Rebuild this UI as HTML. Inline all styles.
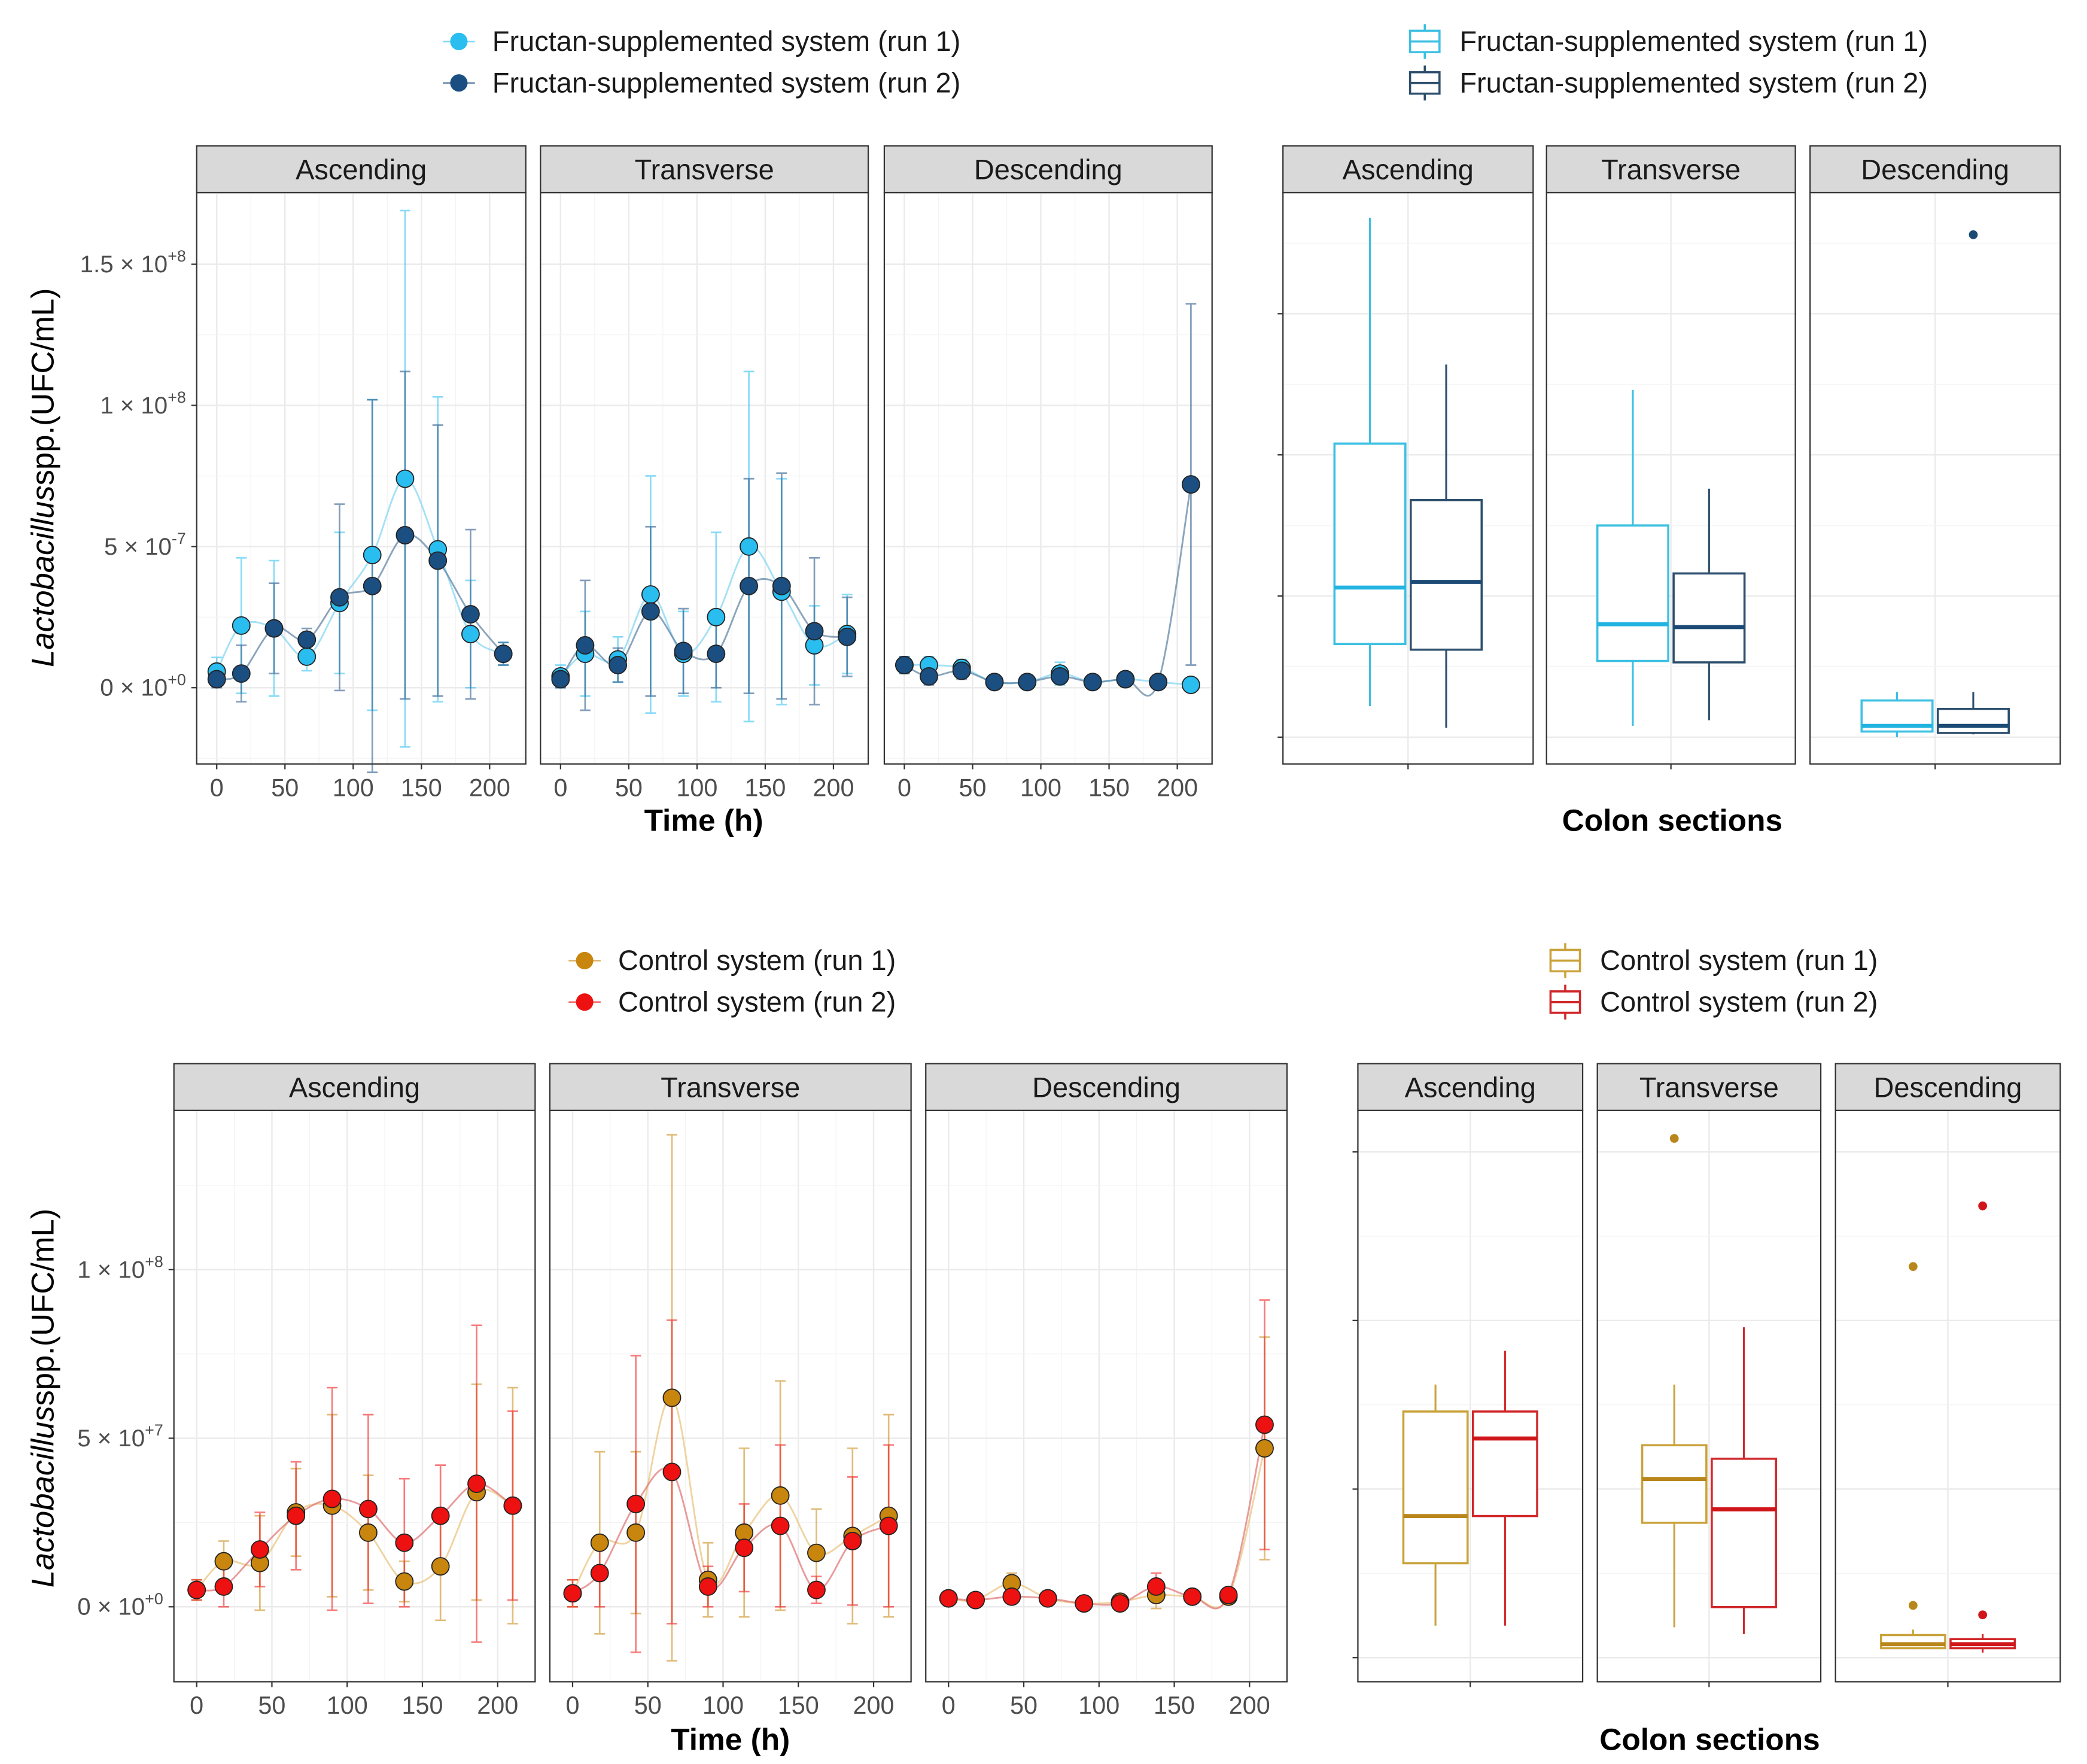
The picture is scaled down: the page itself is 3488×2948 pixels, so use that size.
<!DOCTYPE html>
<html><head><meta charset="utf-8"><style>
html,body{margin:0;padding:0;background:#fff;}
svg{display:block;}
text{font-family:"Liberation Sans",sans-serif;}
</style></head><body>
<svg id="fig" xmlns="http://www.w3.org/2000/svg" width="3488" height="2948" viewBox="0 0 1560 1318.5" preserveAspectRatio="none"></svg>
<script>
// ---------- DATA (values in units of 1e7 UFC/mL) ----------
const times = [0,18,42,66,90,114,138,162,186,210];
const sections = ["Ascending","Transverse","Descending"];
const fAscR1 = [0.57,2.2,2.1,1.1,3.0,4.7,7.4,4.9,1.9,1.2];
const fAscR2 = [0.3,0.5,2.1,1.7,3.2,3.6,5.4,4.5,2.6,1.2];
const fTraR1 = [0.4,1.2,1.0,3.3,1.2,2.5,5.0,3.4,1.5,1.9];
const fTraR2 = [0.3,1.5,0.8,2.7,1.3,1.2,3.6,3.6,2.0,1.8];
const fDesR1 = [0.8,0.8,0.7,0.2,0.2,0.5,0.2,0.3,0.2,0.1];
const fDesR2 = [0.8,0.4,0.6,0.2,0.2,0.4,0.2,0.3,0.2,7.2];
const fAscR1sd = [0.5,2.4,2.4,0.5,2.5,5.5,9.5,5.4,1.9,0.4];
const fAscR2sd = [0.3,1.0,1.6,0.4,3.3,6.6,5.8,4.8,3.0,0.4];
const fTraR1sd = [0.4,1.5,0.8,4.2,1.5,3.0,6.2,4.0,1.4,1.4];
const fTraR2sd = [0.3,2.3,0.6,3.0,1.5,1.2,3.8,4.0,2.6,1.4];
const fDesR1sd = [0.3,0.3,0.3,0.1,0.1,0.4,0.1,0.1,0.1,0.1];
const fDesR2sd = [0.3,0.3,0.3,0.1,0.1,0.1,0.1,0.1,0.1,6.4];
const cAscR1 = [0.5,1.35,1.3,2.8,3.0,2.2,0.75,1.2,3.4,3.0];
const cAscR2 = [0.5,0.6,1.7,2.7,3.2,2.9,1.9,2.7,3.65,3.0];
const cTraR1 = [0.4,1.9,2.2,6.2,0.8,2.2,3.3,1.6,2.1,2.7];
const cTraR2 = [0.4,1.0,3.05,4.0,0.6,1.75,2.4,0.5,1.95,2.4];
const cDesR1 = [0.25,0.2,0.7,0.25,0.1,0.15,0.35,0.3,0.3,4.7];
const cDesR2 = [0.25,0.2,0.3,0.25,0.1,0.1,0.6,0.3,0.35,5.4];
const cAscR1sd = [0.3,0.6,1.4,1.3,2.7,1.7,0.6,1.6,3.2,3.5];
const cAscR2sd = [0.3,0.6,1.1,1.6,3.3,2.8,1.9,1.5,4.7,2.8];
const cTraR1sd = [0.4,2.7,2.4,7.8,1.1,2.5,3.4,1.3,2.6,3.0];
const cTraR2sd = [0.4,1.0,4.4,4.5,0.6,1.3,2.4,0.4,1.9,2.4];
const cDesR1sd = [0.1,0.1,0.3,0.1,0.1,0.1,0.4,0.1,0.1,3.3];
const cDesR2sd = [0.1,0.1,0.1,0.1,0.1,0.1,0.4,0.1,0.1,3.7];
const fBoxR1 = [[1.1,3.3,5.3,10.4,18.4],[0.4,2.7,4.0,7.5,12.3],[0,0.2,0.4,1.3,1.6]];
const fBoxR2 = [[0.33,3.1,5.5,8.4,13.2],[0.6,2.65,3.9,5.8,8.8],[0.1,0.15,0.4,1.0,1.6]];
const fOutR1 = [[],[],[]];
const fOutR2 = [[],[],[17.8]];
const cBoxR1 = [[0.95,2.8,4.2,7.3,8.1],[0.9,4.0,5.3,6.3,8.1],[0.25,0.28,0.4,0.67,0.83]];
const cBoxR2 = [[0.95,4.2,6.5,7.3,9.1],[0.7,1.5,4.4,5.9,9.8],[0.15,0.28,0.4,0.55,0.7]];
const cOutR1 = [[],[15.4],[1.55,11.6]];
const cOutR2 = [[],[],[1.27,13.4]];
const xTicks = [0,50,100,150,200];
const topYTicks = [0,5,10,15];
const topYBase = ["0","5","1","1.5"];
const topYExp = ["+0","-7","+8","+8"];
const botYTicks = [0,5,10];
const botYBase = ["0","5","1"];
const botYExp = ["+0","+7","+8"];

// ---------- DRAWING ----------
const NS="http://www.w3.org/2000/svg";
const svg=document.getElementById('fig');
function mk(tag,attrs,parent){const e=document.createElementNS(NS,tag);for(const k in attrs)e.setAttribute(k,attrs[k]);(parent||svg).appendChild(e);return e;}
function txt(s,attrs,parent){const e=mk('text',attrs,parent);e.textContent=s;return e;}
function smooth(pts){let d=`M${pts[0][0]},${pts[0][1]}`;for(let i=0;i<pts.length-1;i++){const p0=pts[i-1]||pts[i],p1=pts[i],p2=pts[i+1],p3=pts[i+2]||p2;d+=` C${p1[0]+(p2[0]-p0[0])/6},${p1[1]+(p2[1]-p0[1])/6} ${p2[0]-(p3[0]-p1[0])/6},${p2[1]-(p3[1]-p1[1])/6} ${p2[0]},${p2[1]}`;}return d;}

function strip(x0,x1,top,label){
  const r=mk('rect',{x:x0,y:top,width:x1-x0,height:35,fill:'#d9d9d9',stroke:'#333','stroke-width':1});
  
  const t=txt(label,{x:(x0+x1)/2,y:top+25,'text-anchor':'middle','font-size':21,fill:'#1a1a1a'});
  
}

function linePanels(cfg){
  const {panels,top,bot,pxPerH,y0,pxU,yTicks,yBase,yExp,series,colors,lineCols,tag}=cfg;
  panels.forEach((p,pi)=>{
    const [x0,x1,xz]=p;
    const X=t=>xz+t*pxPerH, Y=v=>y0-v*pxU;
    const g=mk('g',{});
    strip(x0,x1,top-35,sections[pi]);
    for(let t=-25;t<=225;t+=25){const xx=X(t);if(xx<=x0||xx>=x1)continue;mk('line',{x1:xx,x2:xx,y1:top,y2:bot,stroke:t%50===0?'#ebebeb':'#f4f4f4','stroke-width':t%50===0?1.1:0.6},g);}
    for(let v=-5;v<=20;v+=2.5){const yy=Y(v);if(yy<=top||yy>=bot)continue;mk('line',{x1:x0,x2:x1,y1:yy,y2:yy,stroke:v%5===0?'#ebebeb':'#f4f4f4','stroke-width':v%5===0?1.1:0.6},g);}
    series[pi].forEach((s,si)=>{
      const [m,sd]=s;const col=colors[si];
      const pts=times.map((t,i)=>[X(t),Y(m[i])]);
      const l=mk('path',{d:smooth(pts),fill:'none',stroke:lineCols[si],'stroke-width':1.3,opacity:0.7},g);
      
      times.forEach((t,i)=>{
        const xx=X(t),yh=Y(m[i]+sd[i]),yl=Y(m[i]-sd[i]);
        const eb=mk('path',{d:`M${xx},${yh}V${yl}M${xx-4},${yh}H${xx+4}M${xx-4},${yl}H${xx+4}`,stroke:col,'stroke-width':1.2,opacity:0.55,fill:'none'},g);
        
      });
    });
    series[pi].forEach((s,si)=>{
      const [m]=s;
      times.forEach((t,i)=>{
        const c=mk('circle',{cx:X(t),cy:Y(m[i]),r:6.5,fill:colors[si],stroke:'#222','stroke-width':0.8},g);
        
      });
    });
    mk('rect',{x:x0,y:top,width:x1-x0,height:bot-top,fill:'none',stroke:'#333','stroke-width':1},g);
    xTicks.forEach(t=>{const xx=X(t);mk('line',{x1:xx,x2:xx,y1:bot,y2:bot+4,stroke:'#333'},g);
      const tl=txt(String(t),{x:xx,y:bot+24,'text-anchor':'middle','font-size':18.5,fill:'#4d4d4d'},g);});
    if(pi===0){yTicks.forEach((v,i)=>{const yy=Y(v);mk('line',{x1:x0-4,x2:x0,y1:yy,y2:yy,stroke:'#333'},g);
      const tl=txt('',{x:x0-8,y:yy+6,'text-anchor':'end','font-size':18,fill:'#4d4d4d'},g);
      
      tl.textContent=yBase[i]+' \u00d7 10';const sp=mk('tspan',{dy:-8,'font-size':12},tl);sp.textContent=yExp[i];});}
  });
}

function boxPanels(cfg){
  const {panels,top,bot,y0,pxU,r1,r2,o1,o2,cols,medCols,tag,bw}=cfg;
  panels.forEach((p,pi)=>{
    const [x0,x1]=p;const cx=(x0+x1)/2;const Y=v=>y0-v*pxU;
    const g=mk('g',{});
    strip(x0,x1,top-35,sections[pi]);
    mk('line',{x1:cx,x2:cx,y1:top,y2:bot,stroke:'#ebebeb','stroke-width':1.1},g);
    for(let v=-2.5;v<=20;v+=2.5){const yy=Y(v);if(yy<=top||yy>=bot)continue;mk('line',{x1:x0,x2:x1,y1:yy,y2:yy,stroke:v%5===0?'#ebebeb':'#f4f4f4','stroke-width':v%5===0?1.1:0.6},g);
      if(pi===0&&v%5===0&&v>=0)mk('line',{x1:x0-4,x2:x0,y1:yy,y2:yy,stroke:'#333'},g);}
    [[r1,o1,cx-bw/2-2],[r2,o2,cx+bw/2+2]].forEach((b,si)=>{
      const [st,outs,bx]=[b[0][pi],b[1][pi],b[2]];
      const bg=mk('g',{},g);
      mk('line',{x1:bx,x2:bx,y1:Y(st[0]),y2:Y(st[1]),stroke:cols[si],'stroke-width':1.4},bg);
      mk('line',{x1:bx,x2:bx,y1:Y(st[3]),y2:Y(st[4]),stroke:cols[si],'stroke-width':1.4},bg);
      mk('rect',{x:bx-bw/2,y:Y(st[3]),width:bw,height:Y(st[1])-Y(st[3]),fill:'#fff',stroke:cols[si],'stroke-width':1.6},bg);
      mk('line',{x1:bx-bw/2,x2:bx+bw/2,y1:Y(st[2]),y2:Y(st[2]),stroke:medCols[si],'stroke-width':3},bg);
      outs.forEach(o=>{const c=mk('circle',{cx:bx,cy:Y(o),r:3.3,fill:medCols[si]},bg);});
    });
    mk('rect',{x:x0,y:top,width:x1-x0,height:bot-top,fill:'none',stroke:'#333','stroke-width':1},g);
    mk('line',{x1:cx,x2:cx,y1:bot,y2:bot+4,stroke:'#333'},g);
  });
}

function legendPts(x,y,labels,cols){labels.forEach((l,i)=>{const g=mk('g',{});
  mk('line',{x1:x-12,x2:x+12,y1:y+31*i,y2:y+31*i,stroke:cols[i],'stroke-width':1.2,opacity:0.6},g);
  mk('circle',{cx:x,cy:y+31*i,r:6.5,fill:cols[i]},g);
  txt(l,{x:x+25,y:y+31*i+7,'font-size':21,fill:'#1a1a1a'},g);});}
function legendBox(x,y,labels,cols){labels.forEach((l,i)=>{const g=mk('g',{});
  const yy=y+31*i;mk('path',{d:`M${x},${yy-13}V${yy-8}M${x},${yy+8}V${yy+13}M${x-11},${yy-8}h22v16h-22zM${x-11},${yy}h22`,stroke:cols[i],'stroke-width':1.6,fill:'#fff'},g);
  txt(l,{x:x+26,y:yy+7,'font-size':21,fill:'#1a1a1a'},g);});}

function axisTitles(xTitleX,xTitleY,yTitleY,boxTitleX,boxTitleY,tag){
  let t=txt('Time (h)',{x:xTitleX,y:xTitleY,'text-anchor':'middle','font-size':23,'font-weight':'bold',fill:'#000'});
  t=txt('Colon sections',{x:boxTitleX,y:boxTitleY,'text-anchor':'middle','font-size':23,'font-weight':'bold',fill:'#000'});
  t=txt('',{x:0,y:0,'text-anchor':'middle','font-size':23.5,fill:'#000',transform:`translate(40,${yTitleY}) rotate(-90)`});
  
  const a=mk('tspan',{'font-style':'italic'},t);a.textContent='Lactobacillus';const b=mk('tspan',{},t);b.textContent='spp.(UFC/mL)';
}

const fC=['#29bdf0','#1b4f82'];
legendPts(343,31,['Fructan-supplemented system (run 1)','Fructan-supplemented system (run 2)'],fC);
legendBox(1065,31,['Fructan-supplemented system (run 1)','Fructan-supplemented system (run 2)'],['#3cc0e2','#2d4f6d']);
linePanels({panels:[[147,393,162],[404,649,419],[661,906,676]],top:144,bot:571,pxPerH:1.02,y0:514,pxU:21.1,
  yTicks:topYTicks,yBase:topYBase,yExp:topYExp,colors:fC,lineCols:['#7fd4f2','#5a7f9f'],tag:'fructan',
  series:[[[fAscR1,fAscR1sd],[fAscR2,fAscR2sd]],[[fTraR1,fTraR1sd],[fTraR2,fTraR2sd]],[[fDesR1,fDesR1sd],[fDesR2,fDesR2sd]]]});
boxPanels({panels:[[959,1146],[1156,1342],[1353,1540]],top:144,bot:571,y0:551,pxU:21.1,r1:fBoxR1,r2:fBoxR2,o1:fOutR1,o2:fOutR2,
  cols:['#3cc0e2','#2d4f6d'],medCols:['#22b4e0','#1b4a75'],tag:'fructan',bw:53});
axisTitles(526,621,357,1250,621,'top');

const cC=['#c8860e','#ee1111'];
legendPts(437,718,['Control system (run 1)','Control system (run 2)'],cC);
legendBox(1170,718,['Control system (run 1)','Control system (run 2)'],['#c9a23a','#d0272a']);
linePanels({panels:[[130,400,147],[411,681,428],[692,962,709]],top:830,bot:1257,pxPerH:1.125,y0:1201,pxU:25.2,
  yTicks:botYTicks,yBase:botYBase,yExp:botYExp,colors:cC,lineCols:['#e8c27a','#e07070'],tag:'control',
  series:[[[cAscR1,cAscR1sd],[cAscR2,cAscR2sd]],[[cTraR1,cTraR1sd],[cTraR2,cTraR2sd]],[[cDesR1,cDesR1sd],[cDesR2,cDesR2sd]]]});
boxPanels({panels:[[1015,1183],[1194,1361],[1372,1540]],top:830,bot:1257,y0:1239,pxU:25.2,r1:cBoxR1,r2:cBoxR2,o1:cOutR1,o2:cOutR2,
  cols:['#c9a23a','#d0272a'],medCols:['#b8861a','#d0161a'],tag:'control',bw:48});
axisTitles(546,1308,1045,1278,1308,'bottom');
</script>
</body></html>
